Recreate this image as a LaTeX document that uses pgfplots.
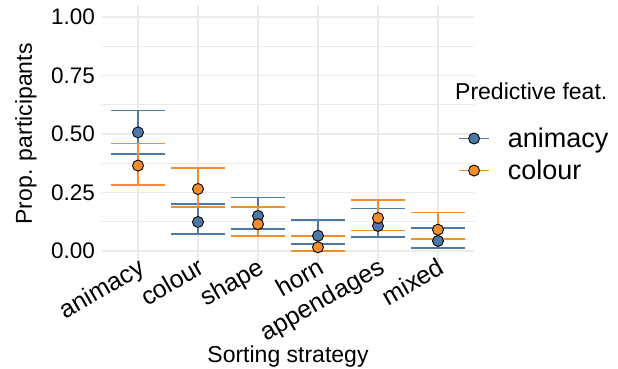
\documentclass[border=0pt]{standalone}
\usepackage{pgfplots}
\pgfplotsset{compat=1.18}
\usepackage{pgfplotstable}
\usepackage{fontspec}
\setmainfont{Liberation Sans}
\definecolor{cblue}{HTML}{4E79A7}
\definecolor{corange}{HTML}{F28E2B}
\definecolor{gridc}{HTML}{EBEBEB}

\pgfplotstableread{
x y top bot
0 0.507 0.600 0.415
1 0.124 0.201 0.073
2 0.150 0.229 0.093
3 0.065 0.131 0.031
4 0.107 0.181 0.060
5 0.043 0.098 0.014
}\animacydata

\pgfplotstableread{
x y top bot
0 0.365 0.459 0.282
1 0.265 0.356 0.189
2 0.115 0.189 0.065
3 0.016 0.064 0.001
4 0.141 0.218 0.087
5 0.091 0.164 0.050
}\colourdata

\begin{document}
\begin{tikzpicture}
\useasboundingbox (0,0) rectangle (618pt,369pt);
\begin{axis}[
  at={(102pt,106.3pt)}, anchor=south west,
  scale only axis, width=372pt, height=257.4pt,
  xmin=-0.6, xmax=5.6, ymin=-0.05, ymax=1.05,
  clip=false,
  axis line style={draw=none},
  major tick length=0pt, minor tick length=0pt,
  xtick={0,...,5}, xticklabels={animacy,colour,shape,horn,appendages,mixed},
  ytick={0,0.25,0.5,0.75,1}, yticklabels={0.00,0.25,0.50,0.75,1.00},
  minor ytick={0.125,0.375,0.625,0.875},
  xmajorgrids, ymajorgrids, yminorgrids,
  major grid style={gridc, line width=1.6pt},
  minor grid style={gridc, line width=0.8pt},
  yticklabel style={font=\fontsize{22.5}{26}\selectfont, text=black, inner sep=0pt, anchor=east, xshift=-7pt},
  xticklabel style={font=\fontsize{25}{29}\selectfont, text=black, inner sep=0pt, xshift=-1pt, yshift=6pt, rotate=30, anchor=north east},
  every axis y label/.style={at={(axis description cs:-0.2043,0.5)}, rotate=90, anchor=center},
  every axis x label/.style={at={(axis description cs:0.5,-0.3885)}, anchor=base},
  label style={font=\fontsize{23}{27}\selectfont},
  ylabel={Prop. participants}, xlabel={Sorting strategy},
  legend style={at={(axis description cs:0.957,0.532)}, anchor=north west, draw=none, fill=none,
    font=\fontsize{27}{32}\selectfont, inner sep=0pt, row sep=7pt, column sep=16pt},
  legend cell align=left,
  legend image code/.code={\draw[mark repeat=2,mark phase=2,#1] plot coordinates {(0pt,0pt) (15pt,0pt) (30pt,0pt)};},
]
\addplot[only marks, mark=none, forget plot,
  error bars/.cd, y dir=both, y explicit, error mark=|,
  error bar style={draw=cblue, line width=1.7pt},
  error mark options={draw=cblue, line width=1.7pt, mark size=27pt}]
  table[x=x, y=y, y error plus expr=\thisrow{top}-\thisrow{y}, y error minus expr=\thisrow{y}-\thisrow{bot}]{\animacydata};
\addplot[only marks, mark=none, forget plot,
  error bars/.cd, y dir=both, y explicit, error mark=|,
  error bar style={draw=corange, line width=1.7pt},
  error mark options={draw=corange, line width=1.7pt, mark size=27pt}]
  table[x=x, y=y, y error plus expr=\thisrow{top}-\thisrow{y}, y error minus expr=\thisrow{y}-\thisrow{bot}]{\colourdata};
\addplot[only marks, mark=*, mark size=5.5pt, forget plot,
  mark options={fill=cblue, draw=black, line width=0.9pt}]
  table[x=x, y=y]{\animacydata};
\addplot[only marks, mark=*, mark size=5.5pt, forget plot,
  mark options={fill=corange, draw=black, line width=0.9pt}]
  table[x=x, y=y]{\colourdata};
\addlegendimage{cblue, line width=1.7pt, mark=*, mark size=5.5pt, mark options={fill=cblue, draw=black, line width=0.9pt}}
\addlegendentry{animacy}
\addlegendimage{corange, line width=1.7pt, mark=*, mark size=5.5pt, mark options={fill=corange, draw=black, line width=0.9pt}}
\addlegendentry{colour}
\node[anchor=base west, font=\fontsize{23}{27}\selectfont, inner sep=0pt] at (axis description cs:0.9489,0.634) {Predictive feat.};
\end{axis}
\end{tikzpicture}
\end{document}
